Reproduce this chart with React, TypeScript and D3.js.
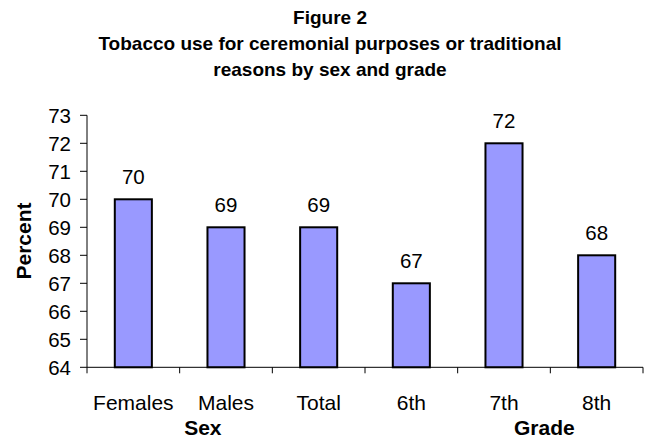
import React from "react";
import * as d3 from "d3";

const categories = ["Females", "Males", "Total", "6th", "7th", "8th"];
const values = [70, 69, 69, 67, 72, 68];
const yTicks = [64, 65, 66, 67, 68, 69, 70, 71, 72, 73];
const titleLines = [
  "Figure 2",
  "Tobacco use for ceremonial purposes or traditional",
  "reasons by sex and grade",
];
const groupLabels = ["Sex", "Grade"];

const W = 652;
const H = 438;
const left = 87;
const right = 643;
const top = 115.3;
const bottom = 367.3;
const font = "Arial, 'Liberation Sans', Helvetica, sans-serif";

export default function App() {
  const x = d3.scaleBand<string>().domain(categories).range([left, right]).paddingInner(0.6).paddingOuter(0.3);
  const y = d3.scaleLinear().domain([64, 73]).range([bottom, top]);
  const step = x.step();
  const boundaries = d3.range(categories.length + 1).map((i) => left + i * step);
  const sexX = left + step + step * 0.25;
  const gradeX = left + 5 * step - 6;

  return (
    <svg width={W} height={H} style={{ position: "absolute", left: 0, top: 0 }}>
      <rect x={0} y={0} width={W} height={H} fill="#fff" />
      {titleLines.map((t, i) => (
        <text key={i} x={330} y={24 + i * 26} textAnchor="middle" fontFamily={font} fontWeight="bold" fontSize={19} fill="#000">
          {t}
        </text>
      ))}
      <text transform={`translate(31,241) rotate(-90)`} textAnchor="middle" fontFamily={font} fontWeight="bold" fontSize={21} fill="#000">
        Percent
      </text>
      {categories.map((c, i) => (
        <rect
          key={c}
          x={x(c)!}
          y={y(values[i])}
          width={x.bandwidth()}
          height={y(64) - y(values[i])}
          fill="#9999FF"
          stroke="#000"
          strokeWidth={2}
        />
      ))}
      {categories.map((c, i) => (
        <text key={c + "v"} x={x(c)! + x.bandwidth() / 2} y={y(values[i]) - 15.5} textAnchor="middle" fontFamily={font} fontSize={20.5} fill="#000">
          {values[i]}
        </text>
      ))}
      <line x1={left} x2={left} y1={top} y2={bottom} stroke="#000" strokeWidth={1} />
      {yTicks.map((t) => (
        <g key={t}>
          <line x1={left - 7} x2={left} y1={y(t)} y2={y(t)} stroke="#000" strokeWidth={1} />
          <text x={71} y={y(t) + 8} textAnchor="end" fontFamily={font} fontSize={20.5} fill="#000">
            {t}
          </text>
        </g>
      ))}
      <line x1={left} x2={right} y1={bottom} y2={bottom} stroke="#000" strokeWidth={1} />
      {boundaries.map((b, i) => (
        <line key={i} x1={b} x2={b} y1={bottom} y2={bottom + 6} stroke="#000" strokeWidth={1} />
      ))}
      {categories.map((c) => (
        <text key={c + "l"} x={x(c)! + x.bandwidth() / 2} y={410} textAnchor="middle" fontFamily={font} fontSize={21} fill="#000">
          {c}
        </text>
      ))}
      <text x={sexX} y={435} textAnchor="middle" fontFamily={font} fontWeight="bold" fontSize={21} fill="#000">
        {groupLabels[0]}
      </text>
      <text x={gradeX} y={435} textAnchor="middle" fontFamily={font} fontWeight="bold" fontSize={21} fill="#000">
        {groupLabels[1]}
      </text>
    </svg>
  );
}
